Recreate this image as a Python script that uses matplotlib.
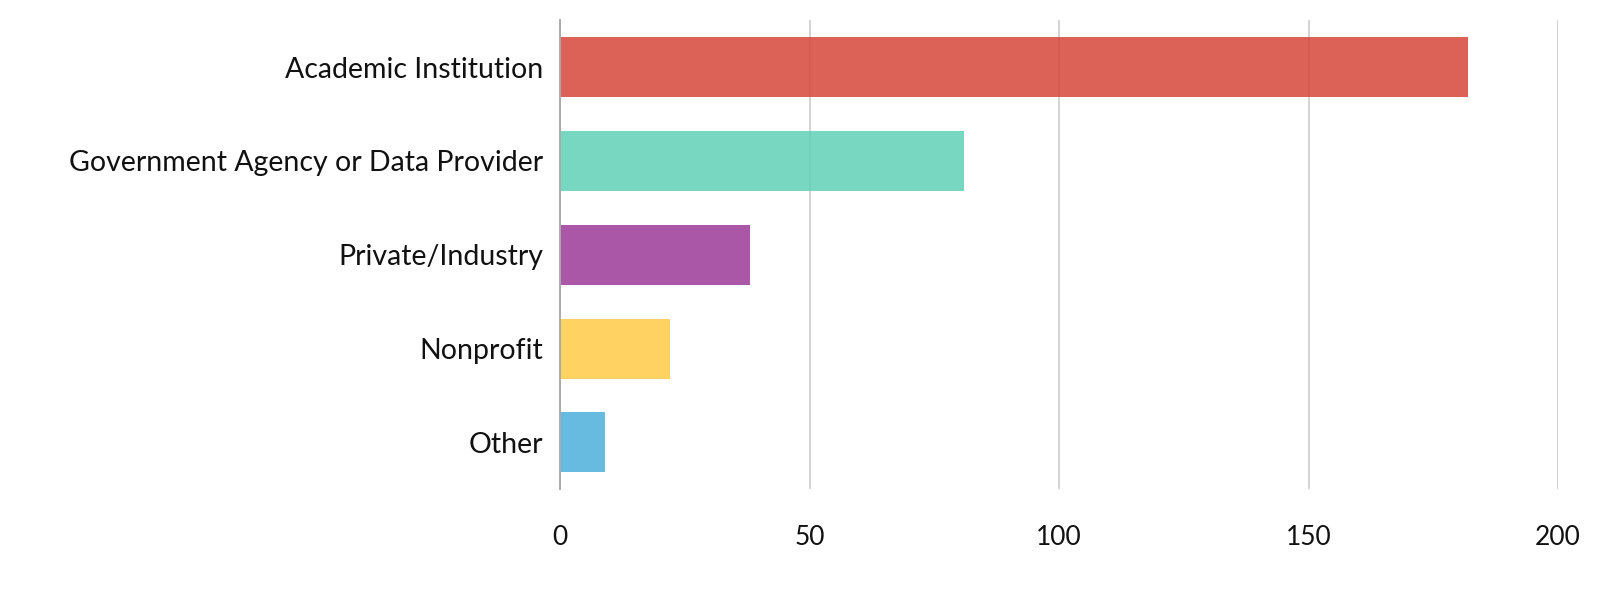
import matplotlib.pyplot as plt

categories = ["Academic Institution", "Government Agency or Data Provider",
              "Private/Industry", "Nonprofit", "Other"]
counts = [182, 81, 38, 22, 9]
colors = ["#D6463A", "#5FD0B6", "#9A3A97", "#FFCB45", "#4EAFDB"]
xticks = [0, 50, 100, 150, 200]

plt.rcParams['font.family'] = ['Lato', 'DejaVu Sans']

fig = plt.figure(figsize=(16.12, 6.14), dpi=100)
ax = fig.add_axes([0.3474, 0.2030, 0.6191, 0.7640])

ypos = list(range(len(categories)))[::-1]
ax.barh(ypos, counts, height=0.64, color=colors, alpha=0.85, zorder=2)

ax.set_xlim(0, 200)
ax.set_ylim(-0.5, 4.5)
ax.set_xticks(xticks)
ax.set_yticks(ypos)
ax.set_yticklabels(categories)

ax.grid(axis="x", color="#d4d4d4", linewidth=1.4, zorder=1)
ax.set_axisbelow(True)
for s in ["top", "right", "bottom"]:
    ax.spines[s].set_visible(False)
ax.spines["left"].set_color("#aaaaaa")
ax.spines["left"].set_linewidth(1.4)
ax.spines["left"].set_zorder(3)

ax.tick_params(axis="y", length=0, pad=12, labelsize=20.5, labelcolor="#111111")
ax.tick_params(axis="x", length=0, pad=26, labelsize=19, labelcolor="#111111")

plt.savefig("out.png", dpi=100)
